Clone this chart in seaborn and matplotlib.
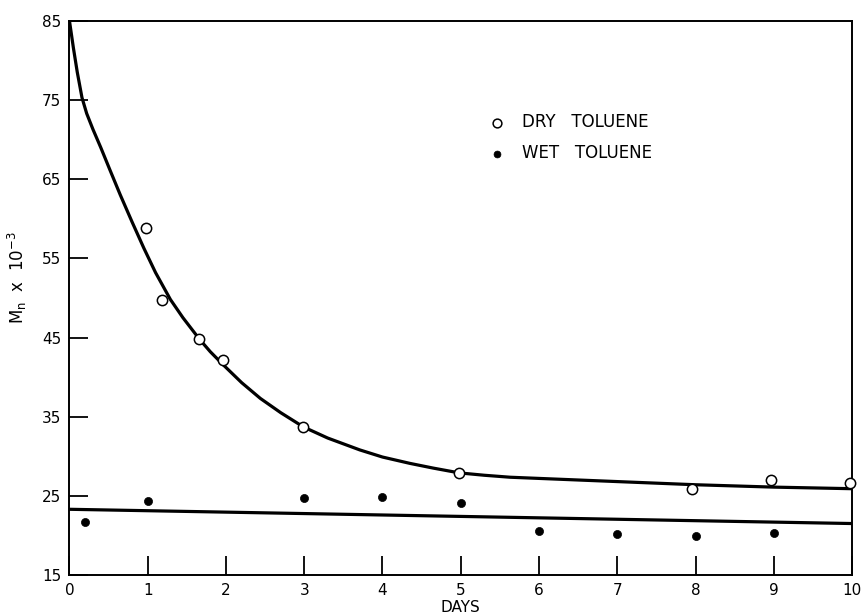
import matplotlib
matplotlib.use("Agg")
import matplotlib.pyplot as plt
import seaborn as sns
import pandas as pd

# Measured number-average molecular weight (x 10^-3) vs. storage time
dry_days = [0.98, 1.18, 1.65, 1.96, 2.98, 4.98, 7.96, 8.97, 9.97]
dry_mn = [58.8, 49.8, 44.8, 42.1, 33.75, 27.9, 25.85, 27.0, 26.6]

wet_days = [0.2, 1.0, 3.0, 4.0, 5.0, 6.0, 7.0, 8.0, 9.0]
wet_mn = [21.7, 24.3, 24.7, 24.9, 24.1, 20.5, 20.2, 19.9, 20.3]

# Hand-drawn trend curve through the dry-toluene data
dry_curve_days = [0.0, 0.05, 0.1, 0.16, 0.22, 0.3, 0.4, 0.52, 0.65, 0.8, 0.95,
                  1.1, 1.29, 1.45, 1.66, 1.8, 1.97, 2.2, 2.44, 2.7, 2.99, 3.3,
                  3.71, 4.0, 4.35, 4.65, 4.98, 5.3, 5.63, 6.0, 6.5, 7.0, 7.5,
                  8.0, 8.5, 9.0, 9.5, 10.0]
dry_curve_mn = [85.0, 81.6, 78.5, 75.3, 73.3, 71.3, 69.0, 66.1, 63.0, 59.6, 56.3,
                53.2, 49.8, 47.5, 44.8, 43.2, 41.5, 39.3, 37.3, 35.5, 33.7, 32.3,
                30.8, 29.9, 29.1, 28.5, 27.9, 27.6, 27.35, 27.2, 27.0, 26.8, 26.6,
                26.4, 26.25, 26.1, 26.0, 25.9]

# Straight trend line through the wet-toluene data
wet_line_days = [0.0, 10.0]
wet_line_mn = [23.3, 21.5]

x_ticks = [0, 1, 2, 3, 4, 5, 6, 7, 8, 9, 10]
y_ticks = [15, 25, 35, 45, 55, 65, 75, 85]

sns.set_style("white")
plt.rcParams["font.family"] = ["DejaVu Sans"]
plt.rcParams["text.color"] = "black"
plt.rcParams["axes.labelcolor"] = "black"
plt.rcParams["xtick.color"] = "black"
plt.rcParams["ytick.color"] = "black"

fig = plt.figure(figsize=(8.65, 6.13), dpi=100)
ax = fig.add_axes([0.0803, 0.062, 0.9047, 0.904])

dry_df = pd.DataFrame({"days": dry_days, "mn": dry_mn})
wet_df = pd.DataFrame({"days": wet_days, "mn": wet_mn})
curve_df = pd.DataFrame({"days": dry_curve_days, "mn": dry_curve_mn})
line_df = pd.DataFrame({"days": wet_line_days, "mn": wet_line_mn})

sns.lineplot(data=curve_df, x="days", y="mn", color="black", linewidth=2.3,
             estimator=None, ax=ax, zorder=2)
sns.lineplot(data=line_df, x="days", y="mn", color="black", linewidth=2.3,
             estimator=None, ax=ax, zorder=2)

sns.scatterplot(data=dry_df, x="days", y="mn", marker="o", s=55,
                facecolor="white", edgecolor="black", linewidth=1.1,
                label="DRY   TOLUENE", ax=ax, zorder=3, clip_on=False)
sns.scatterplot(data=wet_df, x="days", y="mn", marker="o", s=34,
                color="black", edgecolor="black", linewidth=0.5,
                label="WET   TOLUENE", ax=ax, zorder=3, clip_on=False)

ax.set_xlim(0, 10)
ax.set_ylim(15, 85)
ax.set_xticks(x_ticks)
ax.set_yticks(y_ticks)

ax.tick_params(axis="both", direction="in", length=14, width=1.3,
               color="black", labelsize=11, labelcolor="black",
               bottom=True, left=True, top=False, right=False)
ax.tick_params(axis="y", pad=6)
ax.tick_params(axis="x", pad=6)

for side in ["left", "right", "top", "bottom"]:
    ax.spines[side].set_visible(True)
    ax.spines[side].set_color("black")
    ax.spines[side].set_linewidth(1.4)

ax.set_xlabel("DAYS", fontsize=11, labelpad=1)
ax.set_ylabel(r"M$_{\mathregular{n}}$  x  10$^{\mathregular{-3}}$", fontsize=12)
ax.yaxis.set_label_coords(-0.052, 0.536)

leg = ax.legend(loc="upper left", bbox_to_anchor=(0.527, 0.848), frameon=False,
                fontsize=12, borderpad=0, handlelength=0.8, handletextpad=1.1,
                labelspacing=0.75, markerscale=0.85)
for t in leg.get_texts():
    t.set_color("black")

fig.savefig("out.png", dpi=100, facecolor="white")
